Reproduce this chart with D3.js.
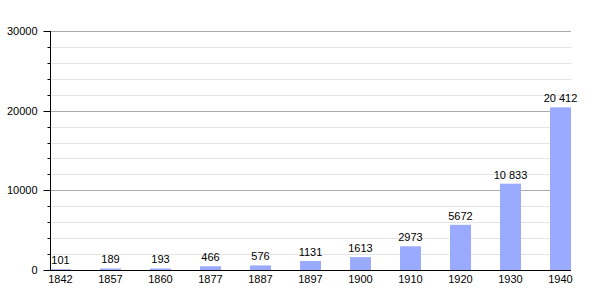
<!DOCTYPE html>
<html>
<head>
<meta charset="utf-8">
<style>
  body { margin: 0; background: #fff; }
  text { font-family: "Liberation Sans", Arial, sans-serif; font-size: 11px; fill: #000; }
</style>
<script src="https://d3js.org/d3.v7.min.js"></script>
</head>
<body>
<div id="chart"></div>
<script>
// data
var years = ["1842", "1857", "1860", "1877", "1887", "1897", "1900", "1910", "1920", "1930", "1940"];
var population = [101, 189, 193, 466, 576, 1131, 1613, 2973, 5672, 10833, 20412];
var majorTicks = [0, 10000, 20000, 30000];
var minorTicks = d3.range(0, 30001, 2000);

var W = 600, H = 300;
var margin = {top: 31, right: 0, bottom: 30, left: 50};
var plotRight = 571;

var svg = d3.select("#chart").append("svg")
  .attr("width", W).attr("height", H);

var x = d3.scaleBand().domain(years).range([margin.left, W]).paddingInner(0).paddingOuter(0);
var y = d3.scaleLinear().domain([0, 30000]).range([H - margin.bottom, margin.top]);
var barW = 21;

// gridlines
svg.append("g").selectAll("line")
  .data(minorTicks.filter(function(d) { return d % 10000 != 0; }))
  .enter().append("line")
  .attr("x1", margin.left).attr("x2", plotRight)
  .attr("y1", function(d) { return Math.round(y(d)) + 0.5; })
  .attr("y2", function(d) { return Math.round(y(d)) + 0.5; })
  .attr("stroke", "#e4e4e4");

svg.append("g").selectAll("line")
  .data(majorTicks.filter(function(d) { return d > 0; }))
  .enter().append("line")
  .attr("x1", margin.left).attr("x2", plotRight)
  .attr("y1", function(d) { return Math.round(y(d)) + 0.5; })
  .attr("y2", function(d) { return Math.round(y(d)) + 0.5; })
  .attr("stroke", "#aaaaaa");

// bars
svg.append("g").selectAll("rect")
  .data(population)
  .enter().append("rect")
  .attr("x", function(d, i) { return x(years[i]); })
  .attr("width", barW)
  .attr("y", function(d) { return y(d); })
  .attr("height", function(d) { return y(0) - y(d); })
  .attr("fill", "#99aaff");

// value labels
function fmt(v) {
  return v >= 10000 ? d3.format(",")(v).replace(",", " ") : String(v);
}
svg.append("g").selectAll("text")
  .data(population)
  .enter().append("text")
  .attr("x", function(d, i) { return x(years[i]) + barW / 2; })
  .attr("y", function(d) { return y(d) - 5; })
  .attr("text-anchor", "middle")
  .text(fmt);

// y axis
var yAxis = svg.append("g").attr("transform", "translate(" + (margin.left + 0.5) + ",0)");
yAxis.append("line")
  .attr("x1", 0).attr("x2", 0)
  .attr("y1", y(30000)).attr("y2", y(0))
  .attr("stroke", "#000");
yAxis.selectAll(".minor")
  .data(minorTicks)
  .enter().append("line")
  .attr("x1", -3).attr("x2", 0)
  .attr("y1", function(d) { return Math.round(y(d)) + 0.5; })
  .attr("y2", function(d) { return Math.round(y(d)) + 0.5; })
  .attr("stroke", "#000");
yAxis.selectAll(".major")
  .data(majorTicks)
  .enter().append("line")
  .attr("x1", -7).attr("x2", 0)
  .attr("y1", function(d) { return Math.round(y(d)) + 0.5; })
  .attr("y2", function(d) { return Math.round(y(d)) + 0.5; })
  .attr("stroke", "#000");
yAxis.selectAll("text")
  .data(majorTicks)
  .enter().append("text")
  .attr("x", -13)
  .attr("y", function(d) { return y(d) + 4; })
  .attr("text-anchor", "end")
  .text(function(d) { return d; });

// x axis
svg.append("line")
  .attr("x1", margin.left).attr("x2", plotRight)
  .attr("y1", Math.round(y(0)) + 0.5).attr("y2", Math.round(y(0)) + 0.5)
  .attr("stroke", "#000");
svg.append("g").selectAll("text")
  .data(years)
  .enter().append("text")
  .attr("x", function(d) { return x(d) + barW / 2; })
  .attr("y", y(0) + 12.5)
  .attr("text-anchor", "middle")
  .text(function(d) { return d; });
</script>
</body>
</html>
